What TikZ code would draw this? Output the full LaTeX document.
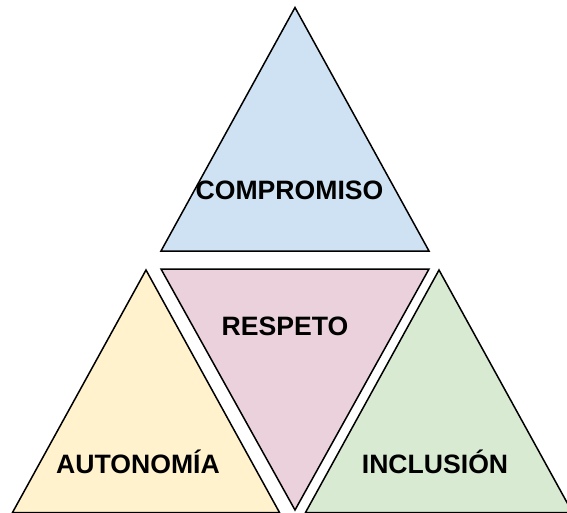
\documentclass[tikz,border=0pt]{standalone}
\usepackage{fontspec}
\setmainfont{Liberation Sans}
\definecolor{cblue}{HTML}{CFE2F3}
\definecolor{cyellow}{HTML}{FFF2CC}
\definecolor{cpink}{HTML}{EAD1DC}
\definecolor{cgreen}{HTML}{D9EAD3}
\tikzset{
  tri/.style={draw=black, line width=1.5pt, line join=miter},
  lbl/.style={font=\fontsize{26.6}{30}\selectfont\bfseries, inner sep=0pt, anchor=center}
}
\begin{document}
\begin{tikzpicture}[x=1pt,y=-1pt]
\useasboundingbox (0,0) rectangle (567,512);
\clip (0,0) rectangle (567,512);
\coordinate (t1) at (295,7.5);
\coordinate (t2) at (429,251);
\coordinate (t3) at (161,251);
\coordinate (p1) at (161,269);
\coordinate (p2) at (429,269);
\coordinate (p3) at (295,510);
\coordinate (l1) at (146,270);
\coordinate (l2) at (279.5,512.5);
\coordinate (l3) at (12.5,512.5);
\coordinate (r1) at (439,270);
\coordinate (r2) at (572.5,512.5);
\coordinate (r3) at (305.5,512.5);
\filldraw[tri, fill=cblue] (t1) -- (t2) -- (t3) -- cycle;
\filldraw[tri, fill=cpink] (p1) -- (p2) -- (p3) -- cycle;
\filldraw[tri, fill=cyellow] (l1) -- (l2) -- (l3) -- cycle;
\filldraw[tri, fill=cgreen] (r1) -- (r2) -- (r3) -- cycle;
\node[lbl] (compromiso) at (289.5,190.5) {COMPROMISO};
\node[lbl] (respeto) at (285,326) {RESPETO};
\node[lbl] (autonomia) at (138,461.5) {AUTONOMÍA};
\node[lbl] (inclusion) at (435,461.5) {INCLUSIÓN};
\end{tikzpicture}
\end{document}
